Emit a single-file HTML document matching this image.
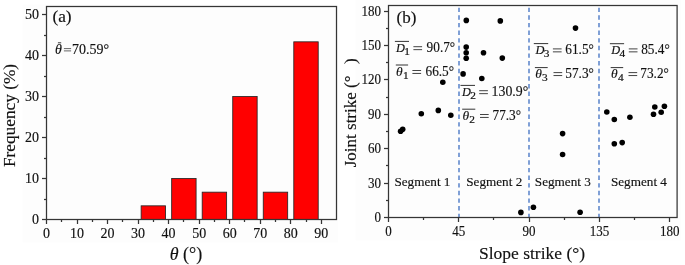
<!DOCTYPE html>
<html><head><meta charset="utf-8"><style>
html,body{margin:0;padding:0;background:#fff;overflow:hidden;}
svg{display:block;will-change:transform;}
text{stroke:#111;stroke-width:0.15px;font-family:"Liberation Serif",serif;fill:#111;}
.t{font-size:14px;}
.tb{font-size:14px;}
.l{font-size:18px;}
.s{font-size:13.2px;}
.m{font-size:13.5px;}
.v{font-size:14.3px;}
.sub{font-size:11.3px;stroke-width:0.22px;}
</style></head><body>
<svg width="685" height="265" viewBox="0 0 685 265">
<rect x="22.5" y="4.5" width="315.5" height="238" fill="#fdfdfd"/>
<rect x="355.5" y="0" width="325.5" height="240.5" fill="#fdfdfd"/>
<rect x="141.14" y="205.83" width="24.42" height="13.67" fill="#ff0000" stroke="#262626" stroke-width="0.85"/>
<rect x="171.67" y="178.50" width="24.42" height="41.00" fill="#ff0000" stroke="#262626" stroke-width="0.85"/>
<rect x="202.20" y="192.17" width="24.42" height="27.33" fill="#ff0000" stroke="#262626" stroke-width="0.85"/>
<rect x="232.73" y="96.50" width="24.42" height="123.00" fill="#ff0000" stroke="#262626" stroke-width="0.85"/>
<rect x="263.26" y="192.17" width="24.42" height="27.33" fill="#ff0000" stroke="#262626" stroke-width="0.85"/>
<rect x="293.79" y="41.83" width="24.42" height="177.67" fill="#ff0000" stroke="#262626" stroke-width="0.85"/>
<rect x="46.5" y="6.5" width="290" height="213" fill="none" stroke="#353535" stroke-width="1.25"/>
<line x1="46.50" y1="219.5" x2="46.50" y2="224.0" stroke="#353535" stroke-width="1.25"/>
<line x1="61.50" y1="219.5" x2="61.50" y2="222.0" stroke="#353535" stroke-width="1.25"/>
<line x1="77.50" y1="219.5" x2="77.50" y2="224.0" stroke="#353535" stroke-width="1.25"/>
<line x1="92.50" y1="219.5" x2="92.50" y2="222.0" stroke="#353535" stroke-width="1.25"/>
<line x1="107.50" y1="219.5" x2="107.50" y2="224.0" stroke="#353535" stroke-width="1.25"/>
<line x1="122.50" y1="219.5" x2="122.50" y2="222.0" stroke="#353535" stroke-width="1.25"/>
<line x1="138.50" y1="219.5" x2="138.50" y2="224.0" stroke="#353535" stroke-width="1.25"/>
<line x1="153.50" y1="219.5" x2="153.50" y2="222.0" stroke="#353535" stroke-width="1.25"/>
<line x1="168.50" y1="219.5" x2="168.50" y2="224.0" stroke="#353535" stroke-width="1.25"/>
<line x1="183.50" y1="219.5" x2="183.50" y2="222.0" stroke="#353535" stroke-width="1.25"/>
<line x1="199.50" y1="219.5" x2="199.50" y2="224.0" stroke="#353535" stroke-width="1.25"/>
<line x1="214.50" y1="219.5" x2="214.50" y2="222.0" stroke="#353535" stroke-width="1.25"/>
<line x1="229.50" y1="219.5" x2="229.50" y2="224.0" stroke="#353535" stroke-width="1.25"/>
<line x1="244.50" y1="219.5" x2="244.50" y2="222.0" stroke="#353535" stroke-width="1.25"/>
<line x1="260.50" y1="219.5" x2="260.50" y2="224.0" stroke="#353535" stroke-width="1.25"/>
<line x1="275.50" y1="219.5" x2="275.50" y2="222.0" stroke="#353535" stroke-width="1.25"/>
<line x1="290.50" y1="219.5" x2="290.50" y2="224.0" stroke="#353535" stroke-width="1.25"/>
<line x1="306.50" y1="219.5" x2="306.50" y2="222.0" stroke="#353535" stroke-width="1.25"/>
<line x1="321.50" y1="219.5" x2="321.50" y2="224.0" stroke="#353535" stroke-width="1.25"/>
<line x1="46.5" y1="219.50" x2="42.0" y2="219.50" stroke="#353535" stroke-width="1.25"/>
<line x1="46.5" y1="199.50" x2="44.0" y2="199.50" stroke="#353535" stroke-width="1.25"/>
<line x1="46.5" y1="178.50" x2="42.0" y2="178.50" stroke="#353535" stroke-width="1.25"/>
<line x1="46.5" y1="158.50" x2="44.0" y2="158.50" stroke="#353535" stroke-width="1.25"/>
<line x1="46.5" y1="137.50" x2="42.0" y2="137.50" stroke="#353535" stroke-width="1.25"/>
<line x1="46.5" y1="117.50" x2="44.0" y2="117.50" stroke="#353535" stroke-width="1.25"/>
<line x1="46.5" y1="96.50" x2="42.0" y2="96.50" stroke="#353535" stroke-width="1.25"/>
<line x1="46.5" y1="76.50" x2="44.0" y2="76.50" stroke="#353535" stroke-width="1.25"/>
<line x1="46.5" y1="55.50" x2="42.0" y2="55.50" stroke="#353535" stroke-width="1.25"/>
<line x1="46.5" y1="35.50" x2="44.0" y2="35.50" stroke="#353535" stroke-width="1.25"/>
<line x1="46.5" y1="14.50" x2="42.0" y2="14.50" stroke="#353535" stroke-width="1.25"/>
<text x="46.50" y="238" text-anchor="middle" class="t">0</text>
<text x="77.03" y="238" text-anchor="middle" class="t">10</text>
<text x="107.56" y="238" text-anchor="middle" class="t">20</text>
<text x="138.09" y="238" text-anchor="middle" class="t">30</text>
<text x="168.62" y="238" text-anchor="middle" class="t">40</text>
<text x="199.15" y="238" text-anchor="middle" class="t">50</text>
<text x="229.68" y="238" text-anchor="middle" class="t">60</text>
<text x="260.21" y="238" text-anchor="middle" class="t">70</text>
<text x="290.74" y="238" text-anchor="middle" class="t">80</text>
<text x="321.27" y="238" text-anchor="middle" class="t">90</text>
<text x="39" y="224.00" text-anchor="end" class="t">0</text>
<text x="39" y="183.00" text-anchor="end" class="t">10</text>
<text x="39" y="142.00" text-anchor="end" class="t">20</text>
<text x="39" y="101.00" text-anchor="end" class="t">30</text>
<text x="39" y="60.00" text-anchor="end" class="t">40</text>
<text x="39" y="19.00" text-anchor="end" class="t">50</text>
<text x="52.4" y="22.3" class="l" style="font-size:17.3px">(a)</text>
<text x="55" y="54.4" class="t" font-style="italic">θ</text>
<line x1="57.9" y1="42.8" x2="61.2" y2="42.8" stroke="#222" stroke-width="0.9"/>
<line x1="63.9" y1="48.6" x2="71.1" y2="48.6" stroke="#666" stroke-width="1"/>
<line x1="63.9" y1="50.9" x2="71.1" y2="50.9" stroke="#666" stroke-width="1"/>
<text x="72" y="54.4" class="t">70.59°</text>
<text transform="translate(15.2,115.5) rotate(-90)" text-anchor="middle" class="l" style="font-size:17.3px">Frequency (%)</text>
<text x="186" y="259.5" text-anchor="middle" class="l"><tspan font-style="italic">θ</tspan> (°)</text>
<line x1="459" y1="218.1" x2="459" y2="6" stroke="#80a0d6" stroke-width="2" stroke-dasharray="4.4 3.23"/>
<line x1="529" y1="218.1" x2="529" y2="6" stroke="#80a0d6" stroke-width="2" stroke-dasharray="4.4 3.23"/>
<line x1="599" y1="218.1" x2="599" y2="6" stroke="#80a0d6" stroke-width="2" stroke-dasharray="4.4 3.23"/>
<rect x="388.5" y="5.5" width="288.6" height="212" fill="none" stroke="#353535" stroke-width="1.25"/>
<line x1="388.50" y1="217.5" x2="388.50" y2="222.0" stroke="#353535" stroke-width="1.25"/>
<line x1="423.50" y1="217.5" x2="423.50" y2="220.0" stroke="#353535" stroke-width="1.25"/>
<line x1="458.50" y1="217.5" x2="458.50" y2="222.0" stroke="#353535" stroke-width="1.25"/>
<line x1="493.50" y1="217.5" x2="493.50" y2="220.0" stroke="#353535" stroke-width="1.25"/>
<line x1="529.50" y1="217.5" x2="529.50" y2="222.0" stroke="#353535" stroke-width="1.25"/>
<line x1="564.50" y1="217.5" x2="564.50" y2="220.0" stroke="#353535" stroke-width="1.25"/>
<line x1="599.50" y1="217.5" x2="599.50" y2="222.0" stroke="#353535" stroke-width="1.25"/>
<line x1="634.50" y1="217.5" x2="634.50" y2="220.0" stroke="#353535" stroke-width="1.25"/>
<line x1="669.50" y1="217.5" x2="669.50" y2="222.0" stroke="#353535" stroke-width="1.25"/>
<line x1="388.5" y1="217.50" x2="384.0" y2="217.50" stroke="#353535" stroke-width="1.25"/>
<line x1="388.5" y1="200.50" x2="386.0" y2="200.50" stroke="#353535" stroke-width="1.25"/>
<line x1="388.5" y1="183.50" x2="384.0" y2="183.50" stroke="#353535" stroke-width="1.25"/>
<line x1="388.5" y1="165.50" x2="386.0" y2="165.50" stroke="#353535" stroke-width="1.25"/>
<line x1="388.5" y1="148.50" x2="384.0" y2="148.50" stroke="#353535" stroke-width="1.25"/>
<line x1="388.5" y1="131.50" x2="386.0" y2="131.50" stroke="#353535" stroke-width="1.25"/>
<line x1="388.5" y1="114.50" x2="384.0" y2="114.50" stroke="#353535" stroke-width="1.25"/>
<line x1="388.5" y1="97.50" x2="386.0" y2="97.50" stroke="#353535" stroke-width="1.25"/>
<line x1="388.5" y1="79.50" x2="384.0" y2="79.50" stroke="#353535" stroke-width="1.25"/>
<line x1="388.5" y1="62.50" x2="386.0" y2="62.50" stroke="#353535" stroke-width="1.25"/>
<line x1="388.5" y1="45.50" x2="384.0" y2="45.50" stroke="#353535" stroke-width="1.25"/>
<line x1="388.5" y1="28.50" x2="386.0" y2="28.50" stroke="#353535" stroke-width="1.25"/>
<line x1="388.5" y1="11.50" x2="384.0" y2="11.50" stroke="#353535" stroke-width="1.25"/>
<text x="388.50" y="236" text-anchor="middle" class="tb" textLength="6.51" lengthAdjust="spacingAndGlyphs">0</text>
<text x="458.80" y="236" text-anchor="middle" class="tb" textLength="13.02" lengthAdjust="spacingAndGlyphs">45</text>
<text x="529.10" y="236" text-anchor="middle" class="tb" textLength="13.02" lengthAdjust="spacingAndGlyphs">90</text>
<text x="599.40" y="236" text-anchor="middle" class="tb" textLength="19.53" lengthAdjust="spacingAndGlyphs">135</text>
<text x="669.70" y="236" text-anchor="middle" class="tb" textLength="19.53" lengthAdjust="spacingAndGlyphs">180</text>
<text x="381" y="222.00" text-anchor="end" class="tb" textLength="6.51" lengthAdjust="spacingAndGlyphs">0</text>
<text x="381" y="187.62" text-anchor="end" class="tb" textLength="13.02" lengthAdjust="spacingAndGlyphs">30</text>
<text x="381" y="153.24" text-anchor="end" class="tb" textLength="13.02" lengthAdjust="spacingAndGlyphs">60</text>
<text x="381" y="118.86" text-anchor="end" class="tb" textLength="13.02" lengthAdjust="spacingAndGlyphs">90</text>
<text x="381" y="84.48" text-anchor="end" class="tb" textLength="19.53" lengthAdjust="spacingAndGlyphs">120</text>
<text x="381" y="50.10" text-anchor="end" class="tb" textLength="19.53" lengthAdjust="spacingAndGlyphs">150</text>
<text x="381" y="15.72" text-anchor="end" class="tb" textLength="19.53" lengthAdjust="spacingAndGlyphs">180</text>
<circle cx="400.6" cy="131.2" r="2.8" fill="#000"/>
<circle cx="402.7" cy="129.3" r="2.8" fill="#000"/>
<circle cx="421.3" cy="113.7" r="2.8" fill="#000"/>
<circle cx="438.3" cy="110.4" r="2.8" fill="#000"/>
<circle cx="442.8" cy="82.2" r="2.8" fill="#000"/>
<circle cx="450.8" cy="115.2" r="2.8" fill="#000"/>
<circle cx="466.3" cy="20.4" r="2.8" fill="#000"/>
<circle cx="500.3" cy="20.9" r="2.8" fill="#000"/>
<circle cx="466.2" cy="47.1" r="2.8" fill="#000"/>
<circle cx="466.2" cy="52.7" r="2.8" fill="#000"/>
<circle cx="483.5" cy="52.7" r="2.8" fill="#000"/>
<circle cx="466.2" cy="58.3" r="2.8" fill="#000"/>
<circle cx="502.3" cy="58.1" r="2.8" fill="#000"/>
<circle cx="463.1" cy="73.9" r="2.8" fill="#000"/>
<circle cx="481.8" cy="78.5" r="2.8" fill="#000"/>
<circle cx="520.9" cy="212.4" r="2.8" fill="#000"/>
<circle cx="533.4" cy="207.3" r="2.8" fill="#000"/>
<circle cx="580.1" cy="212.2" r="2.8" fill="#000"/>
<circle cx="562.6" cy="133.6" r="2.8" fill="#000"/>
<circle cx="562.6" cy="154.5" r="2.8" fill="#000"/>
<circle cx="575.5" cy="28.1" r="2.8" fill="#000"/>
<circle cx="606.8" cy="112" r="2.8" fill="#000"/>
<circle cx="614.3" cy="119.5" r="2.8" fill="#000"/>
<circle cx="629.9" cy="117.2" r="2.8" fill="#000"/>
<circle cx="654.8" cy="107" r="2.8" fill="#000"/>
<circle cx="664.4" cy="106.3" r="2.8" fill="#000"/>
<circle cx="653.5" cy="114.3" r="2.8" fill="#000"/>
<circle cx="661.2" cy="112.2" r="2.8" fill="#000"/>
<circle cx="614.3" cy="143.7" r="2.8" fill="#000"/>
<circle cx="622.2" cy="142.6" r="2.8" fill="#000"/>
<text x="396.6" y="22.6" class="l" style="font-size:17px">(b)</text>
<text x="394.4" y="186.3" class="s">Segment 1</text>
<text x="466.2" y="186.3" class="s">Segment 2</text>
<text x="534.8" y="186.3" class="s">Segment 3</text>
<text x="610.9" y="186.3" class="s">Segment 4</text>
<text x="396.00" y="52.1" class="m" font-style="italic" textLength="8.9" lengthAdjust="spacingAndGlyphs">D</text>
<text x="404.30" y="54.70" class="sub">1</text>
<line x1="413.40" y1="46.70" x2="422.10" y2="46.70" stroke="#3a3a3a" stroke-width="0.95"/>
<line x1="413.40" y1="49.65" x2="422.10" y2="49.65" stroke="#3a3a3a" stroke-width="0.95"/>
<text x="426.60" y="52.1" class="v" textLength="28.59" lengthAdjust="spacingAndGlyphs">90.7°</text>
<line x1="394.9" y1="41.4" x2="409.0" y2="41.4" stroke="#333" stroke-width="1"/>
<text x="396.00" y="75.9" class="m" font-style="italic">θ</text>
<text x="402.90" y="78.50" class="sub">1</text>
<line x1="412.40" y1="70.50" x2="421.10" y2="70.50" stroke="#3a3a3a" stroke-width="0.95"/>
<line x1="412.40" y1="73.45" x2="421.10" y2="73.45" stroke="#3a3a3a" stroke-width="0.95"/>
<text x="425.50" y="75.9" class="v" textLength="28.59" lengthAdjust="spacingAndGlyphs">66.5°</text>
<line x1="395.8" y1="65.0" x2="408.1" y2="65.0" stroke="#333" stroke-width="1"/>
<text x="462.00" y="96.1" class="m" font-style="italic" textLength="8.9" lengthAdjust="spacingAndGlyphs">D</text>
<text x="470.30" y="98.70" class="sub">2</text>
<line x1="479.20" y1="90.70" x2="487.90" y2="90.70" stroke="#3a3a3a" stroke-width="0.95"/>
<line x1="479.20" y1="93.65" x2="487.90" y2="93.65" stroke="#3a3a3a" stroke-width="0.95"/>
<text x="491.60" y="96.1" class="v" textLength="36.64" lengthAdjust="spacingAndGlyphs">130.9°</text>
<line x1="460.5" y1="85.4" x2="475.0" y2="85.4" stroke="#333" stroke-width="1"/>
<text x="462.40" y="119.9" class="m" font-style="italic">θ</text>
<text x="469.30" y="122.50" class="sub">2</text>
<line x1="480.00" y1="114.50" x2="488.70" y2="114.50" stroke="#3a3a3a" stroke-width="0.95"/>
<line x1="480.00" y1="117.45" x2="488.70" y2="117.45" stroke="#3a3a3a" stroke-width="0.95"/>
<text x="492.50" y="119.9" class="v" textLength="28.59" lengthAdjust="spacingAndGlyphs">77.3°</text>
<line x1="462.2" y1="109.2" x2="475.3" y2="109.2" stroke="#333" stroke-width="1"/>
<text x="535.50" y="54.3" class="m" font-style="italic" textLength="8.9" lengthAdjust="spacingAndGlyphs">D</text>
<text x="543.80" y="56.90" class="sub">3</text>
<line x1="552.90" y1="48.90" x2="561.60" y2="48.90" stroke="#3a3a3a" stroke-width="0.95"/>
<line x1="552.90" y1="51.85" x2="561.60" y2="51.85" stroke="#3a3a3a" stroke-width="0.95"/>
<text x="565.30" y="54.3" class="v" textLength="28.59" lengthAdjust="spacingAndGlyphs">61.5°</text>
<line x1="533.8" y1="43.6" x2="548.2" y2="43.6" stroke="#333" stroke-width="1"/>
<text x="535.20" y="78.0" class="m" font-style="italic">θ</text>
<text x="542.10" y="80.60" class="sub">3</text>
<line x1="553.50" y1="72.60" x2="562.20" y2="72.60" stroke="#3a3a3a" stroke-width="0.95"/>
<line x1="553.50" y1="75.55" x2="562.20" y2="75.55" stroke="#3a3a3a" stroke-width="0.95"/>
<text x="565.30" y="78.0" class="v" textLength="28.59" lengthAdjust="spacingAndGlyphs">57.3°</text>
<line x1="534.9" y1="67.6" x2="547.7" y2="67.6" stroke="#333" stroke-width="1"/>
<text x="611.20" y="54.3" class="m" font-style="italic" textLength="8.9" lengthAdjust="spacingAndGlyphs">D</text>
<text x="619.50" y="56.90" class="sub">4</text>
<line x1="628.80" y1="48.90" x2="637.50" y2="48.90" stroke="#3a3a3a" stroke-width="0.95"/>
<line x1="628.80" y1="51.85" x2="637.50" y2="51.85" stroke="#3a3a3a" stroke-width="0.95"/>
<text x="641.20" y="54.3" class="v" textLength="28.59" lengthAdjust="spacingAndGlyphs">85.4°</text>
<line x1="609.9" y1="43.7" x2="624.1" y2="43.7" stroke="#333" stroke-width="1"/>
<text x="611.00" y="78.0" class="m" font-style="italic">θ</text>
<text x="617.90" y="80.60" class="sub">4</text>
<line x1="628.50" y1="72.60" x2="637.20" y2="72.60" stroke="#3a3a3a" stroke-width="0.95"/>
<line x1="628.50" y1="75.55" x2="637.20" y2="75.55" stroke="#3a3a3a" stroke-width="0.95"/>
<text x="640.30" y="78.0" class="v" textLength="28.59" lengthAdjust="spacingAndGlyphs">73.2°</text>
<line x1="610.7" y1="67.6" x2="623.2" y2="67.6" stroke="#333" stroke-width="1"/>
<text transform="translate(356.2,167.3) rotate(-90)" class="l" style="font-size:17px">Joint strike (°</text>
<text transform="translate(356.2,64.1) rotate(-90)" class="l" style="font-size:17.3px">)</text>
<text x="532" y="258.8" text-anchor="middle" class="l" style="font-size:17.5px">Slope strike (°)</text>
</svg>
</body></html>
